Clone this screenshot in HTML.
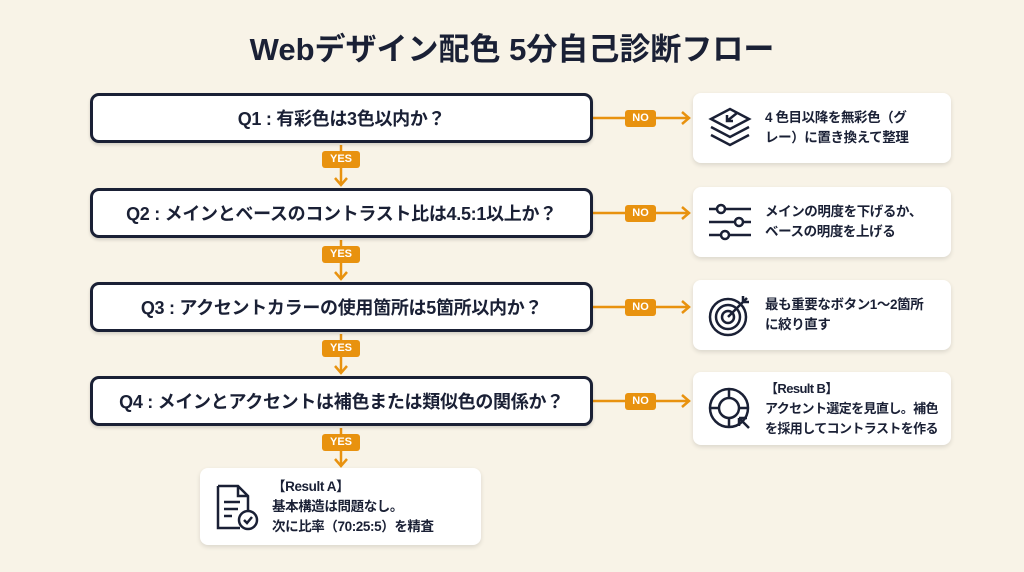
<!DOCTYPE html>
<html><head><meta charset="utf-8"><style>
body{margin:0;width:1024px;height:572px;background:#f8f3e7;font-family:"Liberation Sans","Noto Sans CJK JP",sans-serif;color:#1a2035;position:relative;overflow:hidden}
.t{position:absolute;left:0;width:1024px;top:24px;text-align:center;font-size:31px;font-weight:bold}
.q{position:absolute;left:90px;width:497px;height:44px;border:3px solid #1a2035;border-radius:9px;background:#fff;box-sizing:content-box;display:flex;align-items:center;justify-content:center;font-size:18px;font-weight:bold;box-shadow:0 2px 3px rgba(0,0,0,.15);letter-spacing:-0.3px}
.r{position:absolute;left:693px;width:258px;background:#fff;border-radius:8px;box-shadow:0 2px 5px rgba(0,0,0,.12);font-size:13.5px;font-weight:bold;line-height:20px;white-space:nowrap;letter-spacing:-0.4px}
.r .tx{position:absolute;left:72px;top:50%;transform:translateY(-50%)}
.r svg{position:absolute;left:14px;top:50%;transform:translateY(-50%)}
.lab{position:absolute;background:#e8920f;color:#fff;font-size:11px;font-weight:bold;border-radius:3px;text-align:center;line-height:17px}
svg.ov{position:absolute;left:0;top:0}
</style></head><body>
<div class="t">Webデザイン配色 5分自己診断フロー</div>
<svg class="ov" width="1024" height="572">
<g stroke="#e8920f" stroke-width="2.5" fill="none">
<line x1="341" y1="145" x2="341" y2="184"/><polyline points="335,178 341,185 347,178"/>
<line x1="341" y1="240" x2="341" y2="278"/><polyline points="335,272 341,279 347,272"/>
<line x1="341" y1="334" x2="341" y2="372"/><polyline points="335,366 341,373 347,366"/>
<line x1="341" y1="428" x2="341" y2="465"/><polyline points="335,459 341,466 347,459"/>
<line x1="593" y1="118" x2="688" y2="118"/><polyline points="682,112 689,118 682,124"/>
<line x1="593" y1="213" x2="688" y2="213"/><polyline points="682,207 689,213 682,219"/>
<line x1="593" y1="307" x2="688" y2="307"/><polyline points="682,301 689,307 682,313"/>
<line x1="593" y1="401" x2="688" y2="401"/><polyline points="682,395 689,401 682,407"/>
</g></svg>
<div class="q" style="top:93px">Q1 : 有彩色は3色以内か？</div>
<div class="q" style="top:188px">Q2 : メインとベースのコントラスト比は4.5:1以上か？</div>
<div class="q" style="top:282px">Q3 : アクセントカラーの使用箇所は5箇所以内か？</div>
<div class="q" style="top:376px">Q4 : メインとアクセントは補色または類似色の関係か？</div>
<div class="lab" style="left:322px;top:151px;width:38px">YES</div>
<div class="lab" style="left:322px;top:246px;width:38px">YES</div>
<div class="lab" style="left:322px;top:340px;width:38px">YES</div>
<div class="lab" style="left:322px;top:434px;width:38px">YES</div>
<div class="lab" style="left:625px;top:110px;width:31px">NO</div>
<div class="lab" style="left:625px;top:205px;width:31px">NO</div>
<div class="lab" style="left:625px;top:299px;width:31px">NO</div>
<div class="lab" style="left:625px;top:393px;width:31px">NO</div>
<div class="r" style="top:93px;height:70px"><svg width="46" height="46" viewBox="0 0 46 46" fill="none" stroke="#1a2035" stroke-width="2.5"><path d="M4 14 L23 4 L42 14 L23 24Z"/><path d="M4 22 L23 32 L42 22"/><path d="M4 30 L23 40 L42 30"/><path d="M30 8 L20 16 M20 10 L20 16 L26 16"/></svg><div class="tx">4 色目以降を無彩色（グ<br>レー）に置き換えて整理</div></div>
<div class="r" style="top:187px;height:70px"><svg width="46" height="46" viewBox="0 0 46 46" fill="none" stroke="#1a2035" stroke-width="2.5"><path d="M2 10H44M2 23H44M2 36H44"/><circle cx="14" cy="10" r="4" fill="#fff"/><circle cx="32" cy="23" r="4" fill="#fff"/><circle cx="18" cy="36" r="4" fill="#fff"/></svg><div class="tx">メインの明度を下げるか、<br>ベースの明度を上げる</div></div>
<div class="r" style="top:280px;height:70px"><svg width="46" height="46" viewBox="0 0 46 46" fill="none" stroke="#1a2035" stroke-width="2.5"><circle cx="21" cy="25" r="18"/><circle cx="21" cy="25" r="12"/><circle cx="21" cy="25" r="6"/><path d="M21 25 L40 6 M36 4 L36 10 L42 10"/></svg><div class="tx">最も重要なボタン1〜2箇所<br>に絞り直す</div></div>
<div class="r" style="top:372px;height:73px"><svg width="46" height="46" viewBox="0 0 46 46" fill="none" stroke="#1a2035" stroke-width="2.5"><circle cx="22" cy="22" r="19"/><circle cx="22" cy="22" r="10"/><path d="M22 3V12M22 32V41M3 22H12M32 22H41"/><path d="M32 32 L42 42 M32 32 L32 40 M32 32 L40 32" fill="#1a2035"/></svg><div class="tx" style="font-size:13px;letter-spacing:-0.6px">【Result B】<br>アクセント選定を見直し。補色<br>を採用してコントラストを作る</div></div>
<div class="r" style="left:200px;width:281px;top:468px;height:77px"><svg width="46" height="50" viewBox="0 0 46 50" fill="none" stroke="#1a2035" stroke-width="2.5"><path d="M4 4H24L34 14V28M24 4V14H34M4 4V46H26"/><path d="M10 20H26M10 27H24M10 34H18"/><circle cx="34" cy="38" r="9"/><path d="M30 38L33 41L38 35"/></svg><div class="tx">【Result A】<br>基本構造は問題なし。<br>次に比率（70:25:5）を精査</div></div>
</body></html>
